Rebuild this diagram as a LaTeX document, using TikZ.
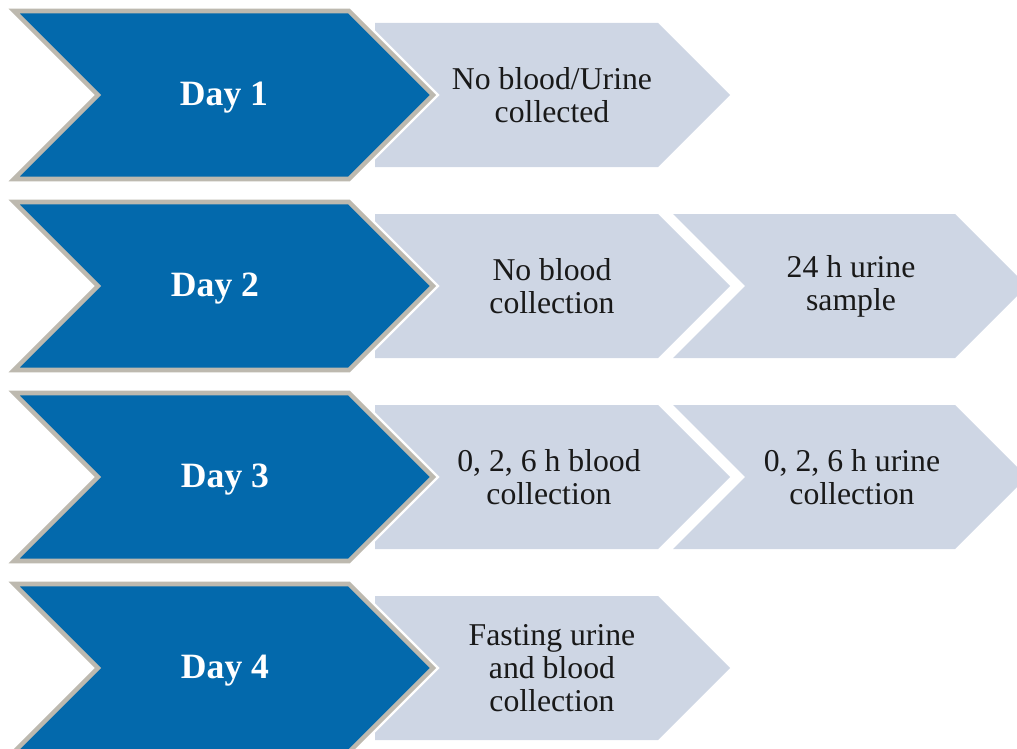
\documentclass[tikz,border=0pt]{standalone}
\usepackage{fontspec}
\setmainfont{Liberation Serif}

\definecolor{dayblue}{HTML}{0369AC}
\definecolor{steplight}{HTML}{CED6E4}
\definecolor{rimgray}{HTML}{BDB9AF}

\tikzset{
  daytext/.style={text=white, font=\fontsize{26.7}{30}\selectfont\bfseries},
  steptext/.style={align=center, text=black!90, font=\fontsize{23.8}{24.8}\selectfont},
}

\begin{document}
\begin{tikzpicture}[x=0.75pt, y=-0.75pt]
    \useasboundingbox (0,0) rectangle (1017,749);
    \clip (0,0) rectangle (1017,749);

    % first light chevron of every row
    \foreach \cy in {95,286,477,668} {
        \fill[steplight] (375,\cy-72) -- (658,\cy-72) -- (730,\cy)
            -- (658,\cy+72) -- (375,\cy+72) -- cycle;
    }
    % second light chevron (days 2 and 3)
    \foreach \cy in {286,477} {
        \fill[steplight] (673,\cy-72) -- (955,\cy-72) -- (1027,\cy)
            -- (955,\cy+72) -- (673,\cy+72) -- (745,\cy) -- cycle;
    }

    % dark day chevrons, white halo under the grey rim
    \foreach \cy/\d/\dx in {95/1/224, 286/2/215, 477/3/225, 668/4/225} {
        \draw[white, line width=7pt] (14,\cy-84) -- (349,\cy-84)
            -- (433,\cy) -- (349,\cy+84) -- (14,\cy+84) -- (98,\cy) -- cycle;
        \draw[rimgray, line width=3.4pt, fill=dayblue] (14,\cy-84) -- (349,\cy-84)
            -- (433,\cy) -- (349,\cy+84) -- (14,\cy+84) -- (98,\cy) -- cycle;
        \node[daytext] (day\d) at (\dx,\cy+3) {Day \d};
    }

    % sample texts
    \node[steptext] (noone)   at (552,95)  {No blood/Urine\\collected};
    \node[steptext] (notwo)   at (552,286) {No blood\\collection};
    \node[steptext] (urinetwo) at (851,286) {24 h urine\\sample};
    \node[steptext] (bloodthree) at (549,477) {0, 2, 6 h blood\\collection};
    \node[steptext] (urinethree) at (852,477) {0, 2, 6 h urine\\collection};
    \node[steptext] (fastfour) at (552,668) {Fasting urine\\and blood\\collection};
\end{tikzpicture}
\end{document}
